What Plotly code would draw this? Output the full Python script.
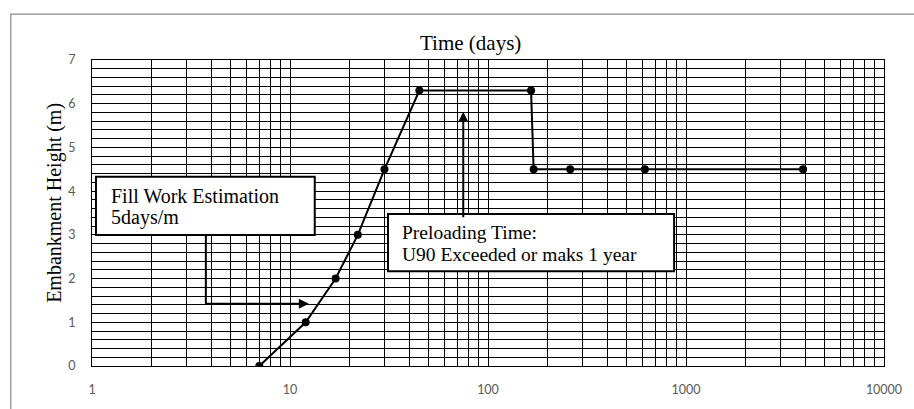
import plotly.graph_objects as go

# ---- data ----
days = [7, 12, 17, 22, 30, 45, 165, 170, 260, 620, 3900]
height_m = [0, 1, 2, 3, 4.5, 6.3, 6.3, 4.5, 4.5, 4.5, 4.5]

x_tick_vals = [m * 10 ** k for k in range(4) for m in range(1, 10)] + [10000]
x_tick_text = [(str(v) if str(v).strip("0") == "1" else "") for v in x_tick_vals]
y_tick_vals = [0, 1, 2, 3, 4, 5, 6, 7]

x_title = "Time (days)"
y_title = "Embankment Height (m)"
box1_lines = ["Fill Work Estimation", "5days/m"]
box2_lines = ["Preloading Time:", "U90 Exceeded or maks 1 year"]

# ---- figure ----
W, H = 914, 409
L, R, T, B = 92, 22, 60, 29
PW, PH = W - L - R, H - T - B


def px(x):
    return (x - L) / PW


def py(y):
    return (H - B - y) / PH


SERIF = "Liberation Serif, Times New Roman, serif"
TICKFONT = dict(family="Lato, Carlito, sans-serif", size=12.5, color="#595959")

fig = go.Figure()
fig.add_trace(go.Scatter(
    x=days, y=height_m, mode="lines+markers",
    line=dict(color="black", width=2),
    marker=dict(color="black", size=8),
    showlegend=False, hoverinfo="skip",
))

fig.update_layout(
    width=W, height=H,
    margin=dict(l=L, r=R, t=T, b=B, pad=0),
    paper_bgcolor="white", plot_bgcolor="white",
    xaxis=dict(
        type="log", range=[0, 4],
        tickmode="array", tickvals=x_tick_vals, ticktext=x_tick_text,
        showgrid=True, gridcolor="black", gridwidth=1.2,
        ticks="", ticklabelstandoff=12, tickfont=TICKFONT,
        showline=True, linecolor="black", linewidth=1, mirror=True,
        zeroline=False,
    ),
    yaxis=dict(
        range=[0, 7], tickmode="array", tickvals=y_tick_vals,
        showgrid=True, gridcolor="black", gridwidth=1.2,
        minor=dict(dtick=0.2, showgrid=True, gridcolor="black", gridwidth=1.2, ticks=""),
        ticks="", ticklabelstandoff=13, tickfont=TICKFONT,
        showline=True, linecolor="black", linewidth=1, mirror=True,
        zeroline=False,
    ),
)

shapes = [
    # outer chart border
    dict(type="rect", xref="paper", yref="paper",
         x0=px(10), x1=px(940), y0=py(430), y1=py(12),
         line=dict(color="#8a8a8a", width=1.2), fillcolor="rgba(0,0,0,0)", layer="above"),
    # box 1
    dict(type="rect", xref="paper", yref="paper",
         x0=px(96), x1=px(317), y0=py(243), y1=py(182),
         line=dict(color="black", width=2), fillcolor="white", layer="above"),
    # box 2
    dict(type="rect", xref="paper", yref="paper",
         x0=px(391), x1=px(680), y0=py(281), y1=py(221),
         line=dict(color="black", width=2), fillcolor="white", layer="above"),
    # elbow connector from box 1 (vertical part)
    dict(type="line", xref="paper", yref="paper",
         x0=px(207), x1=px(207), y0=py(243), y1=py(315),
         line=dict(color="black", width=2), layer="above"),
]
fig.update_layout(shapes=shapes)

ann = []
# axis titles
ann.append(dict(text=x_title, xref="paper", yref="paper", x=px(474.5), y=py(42),
                xanchor="center", yanchor="middle", showarrow=False,
                font=dict(family=SERIF, size=21, color="black")))
ann.append(dict(text=y_title, xref="paper", yref="paper", x=px(54), y=py(209),
                xanchor="center", yanchor="middle", showarrow=False, textangle=-90,
                font=dict(family=SERIF, size=20, color="black")))
# box texts
for i, t in enumerate(box1_lines):
    ann.append(dict(text=t, xref="paper", yref="paper", x=px(109), y=py(202 + 23 * i),
                    xanchor="left", yanchor="middle", showarrow=False,
                    font=dict(family=SERIF, size=20, color="black")))
for i, t in enumerate(box2_lines):
    ann.append(dict(text=t, xref="paper", yref="paper", x=px(403), y=py(240 + 23 * i),
                    xanchor="left", yanchor="middle", showarrow=False,
                    font=dict(family=SERIF, size=19.5, color="black")))
# arrows
ann.append(dict(text="", xref="paper", yref="paper", x=px(311), y=py(315),
                axref="pixel", ayref="pixel", ax=-(311 - 206), ay=0,
                showarrow=True, arrowhead=2, arrowsize=1, arrowwidth=2, arrowcolor="black",
                standoff=0, startstandoff=0))
ann.append(dict(text="", xref="paper", yref="paper", x=px(467), y=py(114),
                axref="pixel", ayref="pixel", ax=0, ay=221 - 114,
                showarrow=True, arrowhead=2, arrowsize=1, arrowwidth=2, arrowcolor="black",
                standoff=0, startstandoff=0))
fig.update_layout(annotations=ann)

fig.write_html("out.html")
